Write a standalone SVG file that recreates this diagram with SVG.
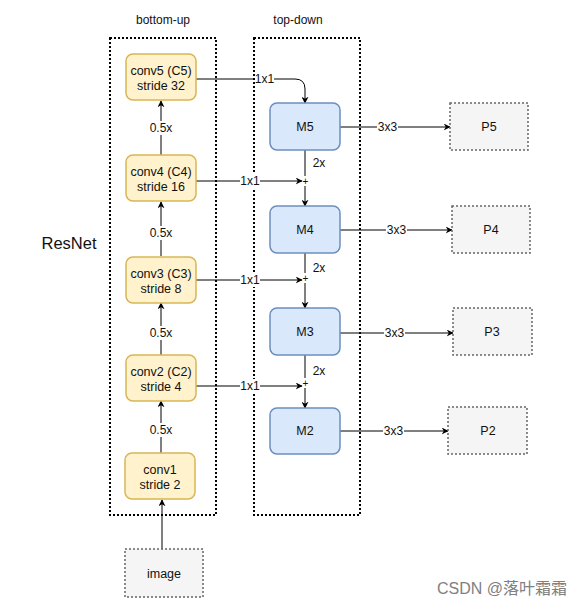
<svg xmlns="http://www.w3.org/2000/svg" width="585" height="608" viewBox="0 0 585 608">
<defs>
<marker id="ah" viewBox="0 0 10 10" refX="9" refY="5" markerWidth="7" markerHeight="7" markerUnits="userSpaceOnUse" orient="auto">
<path d="M0,0 L10,5 L0,10 L3,5 Z" fill="#000"/>
</marker>
<style>
text{font-family:"Liberation Sans",Arial,sans-serif;font-size:12px;fill:#111;text-anchor:middle;dominant-baseline:central}
.n{font-size:12.5px}
.cont{fill:none;stroke:#000;stroke-width:2;stroke-dasharray:2 2}
.conv{fill:#fff2cc;stroke:#d6b656;stroke-width:1.5}
.m{fill:#dae8fc;stroke:#6c8ebf;stroke-width:1.5}
.p{fill:#f5f5f5;stroke:#666;stroke-width:1.5;stroke-dasharray:2 2}
.ln{fill:none;stroke:#000;stroke-width:1;marker-end:url(#ah)}
.lb{fill:#fff}
</style>
</defs>
<rect width="585" height="608" fill="#fff"/>
<text x="163" y="20">bottom-up</text>
<text x="298" y="20">top-down</text>
<text x="69" y="243" style="font-size:16.5px">ResNet</text>
<rect class="cont" x="110" y="38" width="106" height="477"/>
<rect class="cont" x="254" y="38" width="106" height="477"/>
<g id="connectors">
<path class="ln" d="M161,155 V101"/>
<path class="ln" d="M161,256 V202"/>
<path class="ln" d="M161,355 V303"/>
<path class="ln" d="M161,453 V401"/>
<path class="ln" d="M162,549 V500"/>
<path class="ln" d="M196,79 H295 Q305,79 305,89 V103"/>
<path class="ln" d="M196,181 H302"/>
<path class="ln" d="M196,280 H302"/>
<path class="ln" d="M196,386 H302"/>
<path class="ln" d="M305,150 V176" style="marker-end:none"/>
<path class="ln" d="M305,186 V206"/>
<path class="ln" d="M305,253 V273" style="marker-end:none"/>
<path class="ln" d="M305,283 V308"/>
<path class="ln" d="M305,355 V378" style="marker-end:none"/>
<path class="ln" d="M305,388 V408"/>
<path class="ln" d="M340,127 H450"/>
<path class="ln" d="M340,230 H452"/>
<path class="ln" d="M340,333 H453"/>
<path class="ln" d="M340,431 H448"/>
<rect class="lb" x="146" y="121" width="30" height="14"/><text x="161" y="128">0.5x</text>
<rect class="lb" x="146" y="226" width="30" height="14"/><text x="161" y="233">0.5x</text>
<rect class="lb" x="146" y="326" width="30" height="14"/><text x="161" y="333">0.5x</text>
<rect class="lb" x="146" y="423" width="30" height="14"/><text x="161" y="430">0.5x</text>
<rect class="lb" x="255" y="72" width="19" height="14"/><text x="264.5" y="79">1x1</text>
<rect class="lb" x="240" y="174" width="20" height="14"/><text x="250" y="181">1x1</text>
<rect class="lb" x="240" y="273" width="20" height="14"/><text x="250" y="280">1x1</text>
<rect class="lb" x="240" y="379" width="20" height="14"/><text x="250" y="386">1x1</text>
<text x="305.5" y="181" style="font-size:10px">+</text>
<text x="305.5" y="278" style="font-size:10px">+</text>
<text x="305.5" y="383" style="font-size:10px">+</text>
<text x="319" y="163">2x</text>
<text x="319" y="268">2x</text>
<text x="319" y="371">2x</text>
<rect class="lb" x="377" y="120" width="21" height="14"/><text x="387.5" y="127">3x3</text>
<rect class="lb" x="386" y="223" width="21" height="14"/><text x="396.5" y="230">3x3</text>
<rect class="lb" x="384" y="326" width="21" height="14"/><text x="394.5" y="333">3x3</text>
<rect class="lb" x="383" y="424" width="21" height="14"/><text x="393.5" y="431">3x3</text>
</g>
<g id="conv5"><rect class="conv" x="126" y="54" width="70" height="46" rx="7"/><text class="n" x="161" y="71">conv5 (C5)</text><text class="n" x="161" y="86">stride 32</text></g>
<g id="conv4"><rect class="conv" x="126" y="155" width="70" height="46" rx="7"/><text class="n" x="161" y="172">conv4 (C4)</text><text class="n" x="161" y="187">stride 16</text></g>
<g id="conv3"><rect class="conv" x="126" y="257" width="70" height="46" rx="7"/><text class="n" x="161" y="274">conv3 (C3)</text><text class="n" x="161" y="289">stride 8</text></g>
<g id="conv2"><rect class="conv" x="126" y="355" width="70" height="46" rx="7"/><text class="n" x="161" y="372">conv2 (C2)</text><text class="n" x="161" y="387">stride 4</text></g>
<g id="conv1"><rect class="conv" x="125" y="453" width="70" height="46" rx="7"/><text class="n" x="160" y="470">conv1</text><text class="n" x="160" y="485">stride 2</text></g>
<g id="image"><rect class="p" x="125" y="549" width="78" height="48"/><text class="n" x="164" y="574">image</text></g>
<g id="M5"><rect class="m" x="270" y="103" width="70" height="47" rx="7"/><text class="n" x="305" y="127">M5</text></g>
<g id="M4"><rect class="m" x="270" y="206" width="70" height="47" rx="7"/><text class="n" x="305" y="230">M4</text></g>
<g id="M3"><rect class="m" x="270" y="308" width="70" height="47" rx="7"/><text class="n" x="305" y="332">M3</text></g>
<g id="M2"><rect class="m" x="270" y="408" width="70" height="46" rx="7"/><text class="n" x="305" y="431">M2</text></g>
<g id="P5"><rect class="p" x="450" y="103" width="78" height="47"/><text class="n" x="489" y="127">P5</text></g>
<g id="P4"><rect class="p" x="452" y="206" width="78" height="47"/><text class="n" x="491" y="230">P4</text></g>
<g id="P3"><rect class="p" x="453" y="308" width="79" height="47"/><text class="n" x="492" y="332">P3</text></g>
<g id="P2"><rect class="p" x="448" y="407" width="79" height="47"/><text class="n" x="488" y="431">P2</text></g>
<text x="502" y="588" style="font-size:16px;fill:#808080;font-family:'Liberation Sans','Noto Sans CJK SC',sans-serif">CSDN @落叶霜霜</text>
</svg>
